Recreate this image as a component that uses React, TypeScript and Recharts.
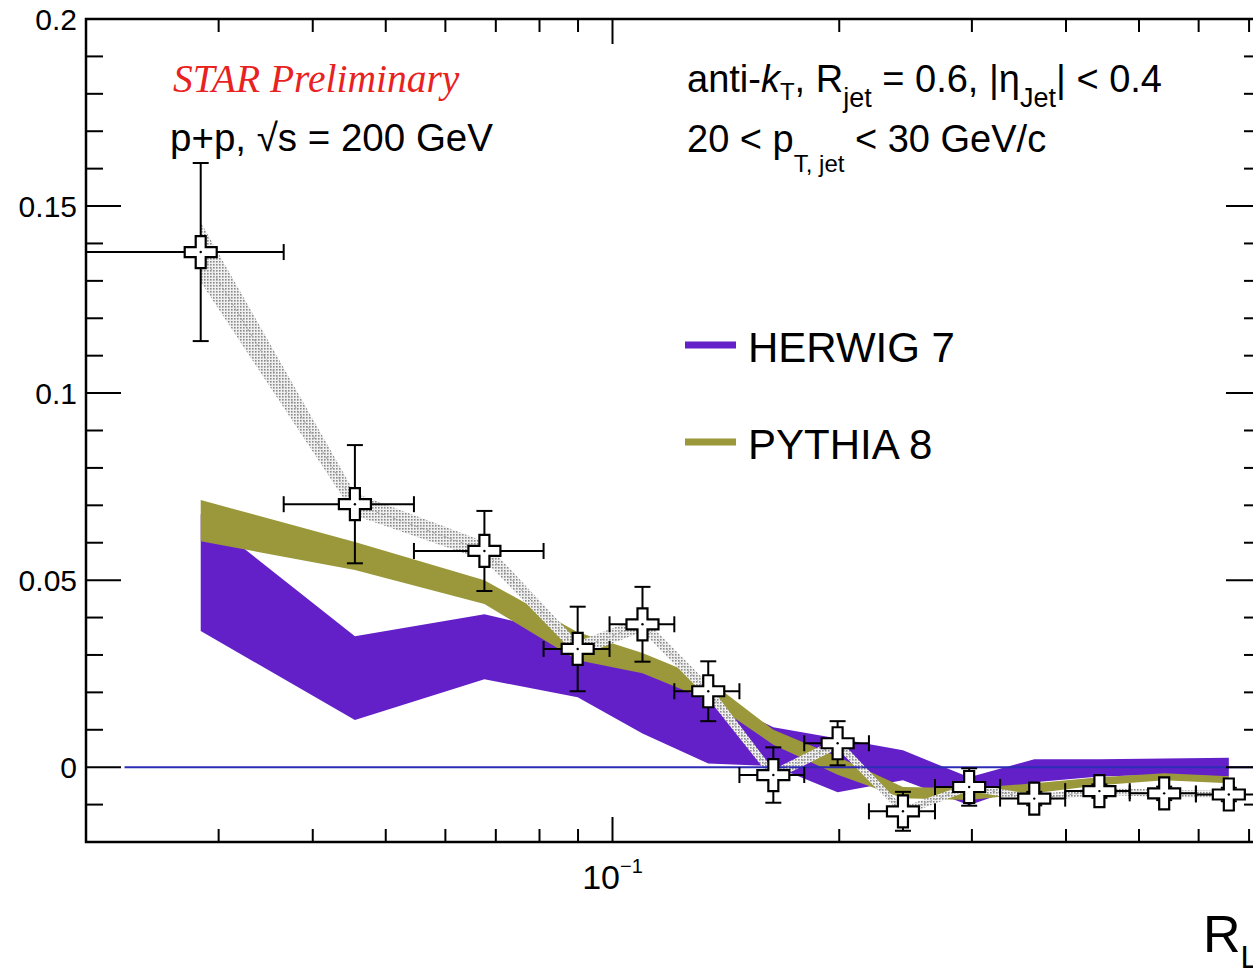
import React from "react";
import {
  ComposedChart,
  Area,
  Line,
  Scatter,
  ErrorBar,
  XAxis,
  YAxis,
  ReferenceLine,
  ReferenceArea,
  Legend,
} from "recharts";

// bin centres and bin edges in R_L
const X_CENTERS = [0.0284, 0.0455, 0.0676, 0.0899, 0.1096, 0.134, 0.1635, 0.199, 0.243, 0.2975, 0.363, 0.443, 0.54, 0.658];
const X_EDGES = [0.02, 0.0366, 0.0545, 0.081, 0.0991, 0.1208, 0.1474, 0.1797, 0.219, 0.268, 0.327, 0.399, 0.486, 0.595, 0.726];

// STAR data
const DATA_Y = [0.1377, 0.0703, 0.0578, 0.0316, 0.0382, 0.0203, -0.0021, 0.0064, -0.0118, -0.0053, -0.0084, -0.0064, -0.007, -0.0073];
const STAT_ERR = [0.0238, 0.0158, 0.0107, 0.0113, 0.01, 0.008, 0.0074, 0.0059, 0.0052, 0.005, 0.0018, 0.0018, 0.0018, 0.0018];
const SYS_ERR = [0.008, 0.003, 0.0025, 0.002, 0.002, 0.002, 0.0015, 0.0015, 0.0012, 0.001, 0.001, 0.001, 0.001, 0.001];

// model bands
const HERWIG_LO = [0.0364, 0.0126, 0.0235, 0.0187, 0.009, 0.001, 0.0003, -0.0067, -0.0035, -0.0102, -0.004, -0.0025, -0.002, -0.0025];
const HERWIG_HI = [0.0676, 0.035, 0.0409, 0.035, 0.028, 0.019, 0.0107, 0.0077, 0.0045, -0.0027, 0.0021, 0.0021, 0.0023, 0.0025];
const PYTHIA_LO = [0.0604, 0.0527, 0.0436, 0.0286, 0.0251, 0.0179, 0.006, -0.002, -0.0083, -0.0088, -0.007, -0.0048, -0.0035, -0.0043];
const PYTHIA_HI = [0.0714, 0.0602, 0.05, 0.0361, 0.0305, 0.0233, 0.01, 0.0028, -0.0053, -0.0056, -0.0043, -0.0027, -0.0016, -0.0024];

// axis ticks
const X_TICKS = [0.03, 0.04, 0.05, 0.06, 0.07, 0.08, 0.09, 0.1, 0.2, 0.3, 0.4, 0.5, 0.6, 0.7];
const X_MAJOR = [0.1];
const Y_TICKS = [-0.02, -0.01, 0, 0.01, 0.02, 0.03, 0.04, 0.05, 0.06, 0.07, 0.08, 0.09, 0.1, 0.11, 0.12, 0.13, 0.14, 0.15, 0.16, 0.17, 0.18, 0.19, 0.2];
const Y_MAJOR = [0, 0.05, 0.1, 0.15, 0.2];

const HERWIG_COLOR = "#6320c8";
const PYTHIA_COLOR = "#9a983a";
const MODEL_COLORS: Record<string, string> = { "HERWIG 7": HERWIG_COLOR, "PYTHIA 8": PYTHIA_COLOR };

const SANS = "'Liberation Sans', Arial, sans-serif";
const PLOT_LEFT = 86;
const PLOT_RIGHT = 1261;
const PLOT_TOP = 19;
const PLOT_BOTTOM = 842;

const chartData = X_CENTERS.map((x, i) => ({
  x,
  y: DATA_Y[i],
  yErr: STAT_ERR[i],
  xErr: [x - X_EDGES[i], X_EDGES[i + 1] - x],
  sys: [DATA_Y[i] - SYS_ERR[i], DATA_Y[i] + SYS_ERR[i]],
  herwig: [HERWIG_LO[i], HERWIG_HI[i]],
  pythia: [PYTHIA_LO[i], PYTHIA_HI[i]],
}));

const isIn = (arr: number[], v: number) => arr.some((m) => Math.abs(m - v) < 1e-9);

function YTick(props: any) {
  const { y, payload } = props;
  const major = isIn(Y_MAJOR, payload.value);
  const len = major ? 35 : 17;
  return (
    <g>
      <line x1={PLOT_LEFT} x2={PLOT_LEFT + len} y1={y} y2={y} stroke="#000" strokeWidth={2} />
      <line x1={PLOT_RIGHT - len} x2={PLOT_RIGHT} y1={y} y2={y} stroke="#000" strokeWidth={2} />
      {major && (
        <text x={77} y={y} dy="0.36em" textAnchor="end" fontFamily={SANS} fontSize={30} fill="#000">
          {String(payload.value)}
        </text>
      )}
    </g>
  );
}

function XTick(props: any) {
  const { x, payload } = props;
  const major = isIn(X_MAJOR, payload.value);
  const len = major ? 25 : 13;
  return (
    <g>
      <line x1={x} x2={x} y1={PLOT_BOTTOM - len} y2={PLOT_BOTTOM} stroke="#000" strokeWidth={2} />
      <line x1={x} x2={x} y1={PLOT_TOP} y2={PLOT_TOP + len} stroke="#000" strokeWidth={2} />
      {major && (
        <text x={x} y={889} textAnchor="middle" fontFamily={SANS} fontSize={34} fill="#000">
          10
          <tspan dy={-16} fontSize={20}>−1</tspan>
        </text>
      )}
    </g>
  );
}

function CrossMarker(props: any) {
  const { cx, cy } = props;
  if (cx == null || cy == null) return null;
  const a = 16;
  const b = 5;
  const d = `M${cx - b},${cy - a}H${cx + b}V${cy - b}H${cx + a}V${cy + b}H${cx + b}V${cy + a}H${cx - b}V${cy + b}H${cx - a}V${cy - b}H${cx - b}Z`;
  return (
    <g>
      <path d={d} fill="#fff" stroke="#000" strokeWidth={2.2} />
      <circle cx={cx} cy={cy} r={1.2} fill="#000" />
    </g>
  );
}

function ModelLegend(props: any) {
  const items = (props.payload || []).filter((p: any) => MODEL_COLORS[p.value]);
  return (
    <svg width={320} height={160}>
      {items.map((p: any, i: number) => (
        <g key={p.value} transform={`translate(0, ${i * 97})`}>
          <line x1={5} x2={56} y1={25} y2={25} stroke={MODEL_COLORS[p.value]} strokeWidth={7} />
          <text x={68} y={42} fontFamily={SANS} fontSize={42} fill="#000">
            {p.value}
          </text>
        </g>
      ))}
    </svg>
  );
}

export default function App() {
  return (
    <div
      style={{
        position: "fixed",
        left: 0,
        top: 0,
        width: 1253,
        height: 970,
        overflow: "hidden",
        background: "#fff",
      }}
    >
      <ComposedChart
        width={1300}
        height={970}
        data={chartData}
        margin={{ top: PLOT_TOP, right: 1300 - PLOT_RIGHT, bottom: 0, left: 0 }}
      >
        <defs>
          <pattern id="sysDots" width={3} height={3} patternUnits="userSpaceOnUse">
            <rect width={3} height={3} fill="#f0f0f0" />
            <rect width={1.6} height={1.6} fill="#8a8a8a" />
          </pattern>
        </defs>
        <XAxis
          dataKey="x"
          type="number"
          scale="log"
          domain={[0.02, 0.726]}
          allowDataOverflow
          ticks={X_TICKS}
          interval={0}
          tick={XTick}
          tickLine={false}
          axisLine={false}
          height={128}
        />
        <YAxis
          type="number"
          domain={[-0.02, 0.2]}
          allowDataOverflow
          ticks={Y_TICKS}
          interval={0}
          tick={YTick}
          tickLine={false}
          axisLine={false}
          width={PLOT_LEFT}
        />
        <ReferenceLine
          segment={[
            { x: 0.0225, y: 0 },
            { x: 0.726, y: 0 },
          ]}
          stroke="#2c2cb4"
          strokeWidth={2}
          ifOverflow="visible"
        />
        <Area
          dataKey="herwig"
          name="HERWIG 7"
          type="linear"
          stroke="none"
          fill={HERWIG_COLOR}
          fillOpacity={1}
          dot={false}
          activeDot={false}
          isAnimationActive={false}
        />
        <Area
          dataKey="pythia"
          name="PYTHIA 8"
          type="linear"
          stroke="none"
          fill={PYTHIA_COLOR}
          fillOpacity={1}
          dot={false}
          activeDot={false}
          isAnimationActive={false}
        />
        <Area
          dataKey="sys"
          type="linear"
          stroke="none"
          fill="url(#sysDots)"
          fillOpacity={1}
          dot={false}
          activeDot={false}
          legendType="none"
          isAnimationActive={false}
        />
        <Line
          dataKey="y"
          type="linear"
          stroke="#a0a0a0"
          strokeWidth={1}
          strokeDasharray="3 3"
          dot={false}
          activeDot={false}
          legendType="none"
          isAnimationActive={false}
        />
        <Scatter dataKey="y" shape={(p: any) => <CrossMarker {...p} />} legendType="none" isAnimationActive={false}>
          <ErrorBar dataKey="yErr" direction="y" width={8} stroke="#000" strokeWidth={2} />
          <ErrorBar dataKey="xErr" direction="x" width={8} stroke="#000" strokeWidth={2} />
        </Scatter>
        <ReferenceArea
          x1={0.02}
          x2={0.726}
          y1={-0.02}
          y2={0.2}
          fill="none"
          stroke="#000"
          strokeWidth={2.5}
          ifOverflow="visible"
        />
        <Legend
          layout="vertical"
          align="center"
          verticalAlign="middle"
          content={<ModelLegend />}
          wrapperStyle={{ position: "absolute", left: 680, top: 320, width: 320, height: 160 }}
        />
      </ComposedChart>

      <svg
        width={1253}
        height={970}
        style={{ position: "absolute", left: 0, top: 0, pointerEvents: "none" }}
      >
        <text x={173} y={92} fontFamily="'Liberation Serif', 'Times New Roman', serif" fontStyle="italic" fontSize={39.5} fill="#e8221f">
          STAR Preliminary
        </text>
        <text x={170} y={151} fontFamily={SANS} fontSize={38.5} fill="#000">
          p+p, √s = 200 GeV
        </text>
        <text x={687} y={92} fontFamily={SANS} fontSize={38} fill="#000">
          anti-<tspan fontStyle="italic">k</tspan>
          <tspan fontSize={24} dy={8}>T</tspan>
          <tspan dy={-8}>, R</tspan>
          <tspan fontSize={27} dy={15}>jet</tspan>
          <tspan dy={-15}> = 0.6, |η</tspan>
          <tspan fontSize={27} dy={15}>Jet</tspan>
          <tspan dy={-15}>| &lt; 0.4</tspan>
        </text>
        <text x={687} y={152} fontFamily={SANS} fontSize={38} fill="#000">
          20 &lt; p<tspan fontSize={24} dy={20}>T, jet</tspan>
          <tspan dy={-20}> &lt; 30 GeV/c</tspan>
        </text>
        <text x={1203} y={952} fontFamily={SANS} fontSize={52} fill="#000">
          R<tspan fontSize={32} dy={16}>L</tspan>
        </text>
      </svg>
    </div>
  );
}
